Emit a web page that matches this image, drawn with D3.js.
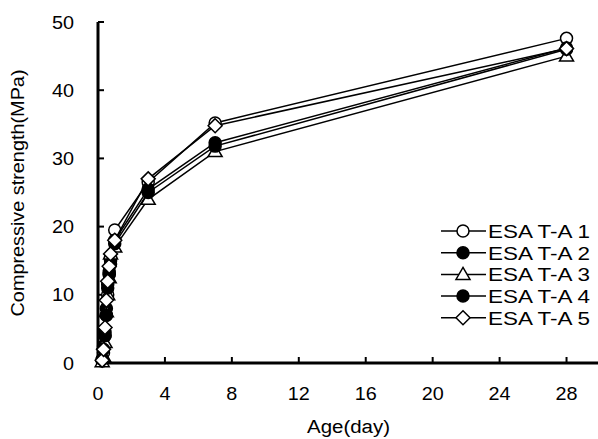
<!DOCTYPE html>
<html>
<head>
<meta charset="utf-8">
<script src="https://cdn.jsdelivr.net/npm/d3@7"></script>
<style>
  body { margin: 0; background: #fff; }
  svg { display: block; font-family: Arial, "Liberation Sans", sans-serif; }
</style>
</head>
<body>
<svg id="chart" width="598" height="439"></svg>
<script>
'use strict';

// ages in days, strengths in MPa
const ages = [0.25, 0.33, 0.42, 0.5, 0.58, 0.67, 0.75, 1, 3, 7, 28];
const seriesNames = ['ESA T-A 1', 'ESA T-A 2', 'ESA T-A 3', 'ESA T-A 4', 'ESA T-A 5'];
const ta1 = [0.3, 1.5, 4.0, 7.0, 10.0, 13.0, 15.5, 19.5, 26.5, 35.2, 47.6];
const ta2 = [0.5, 2.5, 4.5, 8.0, 11.5, 13.5, 15.0, 18.0, 25.5, 32.3, 46.2];
const ta3 = [0.2, 1.0, 3.0, 7.5, 10.0, 12.5, 16.0, 17.0, 24.0, 31.0, 45.0];
const ta4 = [0.5, 2.0, 4.0, 7.0, 11.0, 13.0, 14.5, 17.5, 25.0, 31.8, 46.0];
const ta5 = [0.4, 2.0, 5.2, 9.2, 12.0, 14.2, 16.0, 18.0, 27.0, 34.8, 46.1];
const seriesValues = [ta1, ta2, ta3, ta4, ta5];
const markerTypes = ['circle-open', 'circle-filled', 'triangle', 'circle-filled', 'diamond'];
const xTicks = [0, 4, 8, 12, 16, 20, 24, 28];
const yTicks = [0, 10, 20, 30, 40, 50];

const svg = d3.select('#chart');
const x = d3.scaleLinear().domain([0, 30]).range([98, 600]);
const y = d3.scaleLinear().domain([0, 50]).range([363, 22]);
const sx = 1.1; // text looks horizontally stretched in the original

// axes
svg.append('line').attr('x1', x(0)).attr('x2', 598).attr('y1', y(0)).attr('y2', y(0))
    .attr('stroke', '#000').attr('stroke-width', 3);
svg.append('line').attr('x1', x(0)).attr('x2', x(0)).attr('y1', y(0) + 1.5).attr('y2', y(50))
    .attr('stroke', '#000').attr('stroke-width', 3);

svg.selectAll('.ytick').data(yTicks).enter().append('line')
    .attr('x1', x(0)).attr('x2', x(0) + 6)
    .attr('y1', d => y(d)).attr('y2', d => y(d))
    .attr('stroke', '#000').attr('stroke-width', 2);
svg.selectAll('.xtick').data(xTicks.slice(1)).enter().append('line')
    .attr('x1', d => x(d)).attr('x2', d => x(d))
    .attr('y1', y(0)).attr('y2', y(0) - 6)
    .attr('stroke', '#000').attr('stroke-width', 2);

svg.selectAll('.ylab').data(yTicks).enter().append('text')
    .attr('transform', d => `translate(74,${y(d) + 6.5}) scale(${sx},1)`)
    .attr('text-anchor', 'end').attr('font-size', 18).text(d => d);
svg.selectAll('.xlab').data(xTicks).enter().append('text')
    .attr('transform', d => `translate(${x(d)},${399.5}) scale(${sx},1)`)
    .attr('text-anchor', 'middle').attr('font-size', 18).text(d => d);

svg.append('text').attr('x', 307).attr('y', 433).attr('font-size', 18)
    .attr('textLength', 83).attr('lengthAdjust', 'spacingAndGlyphs').text('Age(day)');
svg.append('text').attr('transform', 'translate(24,193) rotate(-90)')
    .attr('text-anchor', 'middle').attr('font-size', 19)
    .attr('textLength', 247).attr('lengthAdjust', 'spacingAndGlyphs')
    .text('Compressive strength(MPa)');

function drawMarker(g, type, cx, cy) {
    const sw = 1.5;
    if (type === 'circle-open' || type === 'circle-filled') {
        g.append('circle').attr('cx', cx).attr('cy', cy).attr('r', 6)
            .attr('fill', type === 'circle-filled' ? '#000' : '#fff')
            .attr('stroke', '#000').attr('stroke-width', sw);
    } else if (type === 'triangle') {
        const p = [[cx, cy - 7], [cx + 7, cy + 5], [cx - 7, cy + 5]];
        g.append('polygon').attr('points', p.map(q => q.join(',')).join(' '))
            .attr('fill', '#fff').attr('stroke', '#000').attr('stroke-width', sw);
    } else {
        const p = [[cx, cy - 7], [cx + 7, cy], [cx, cy + 7], [cx - 7, cy]];
        g.append('polygon').attr('points', p.map(q => q.join(',')).join(' '))
            .attr('fill', '#fff').attr('stroke', '#000').attr('stroke-width', sw);
    }
}

const line = d3.line().x(d => x(d[0])).y(d => y(d[1]));

seriesValues.forEach((vals, i) => {
    const g = svg.append('g');
    const pts = ages.map((a, j) => [a, vals[j]]);
    g.append('path').attr('d', line(pts)).attr('fill', 'none')
        .attr('stroke', '#000').attr('stroke-width', 1.5);
    pts.forEach(p => drawMarker(g, markerTypes[i], x(p[0]), y(p[1])));
});

// legend
const leg = svg.append('g');
seriesNames.forEach((name, i) => {
    const cy = 231 + i * 21.7;
    leg.append('line').attr('x1', 441).attr('x2', 486).attr('y1', cy).attr('y2', cy)
        .attr('stroke', '#000').attr('stroke-width', 1.5);
    drawMarker(leg, markerTypes[i], 463, cy);
    leg.append('text').attr('x', 488).attr('y', cy + 6.8).attr('font-size', 18.5)
        .attr('textLength', 102).attr('lengthAdjust', 'spacingAndGlyphs').text(name);
});
</script>
</body>
</html>
